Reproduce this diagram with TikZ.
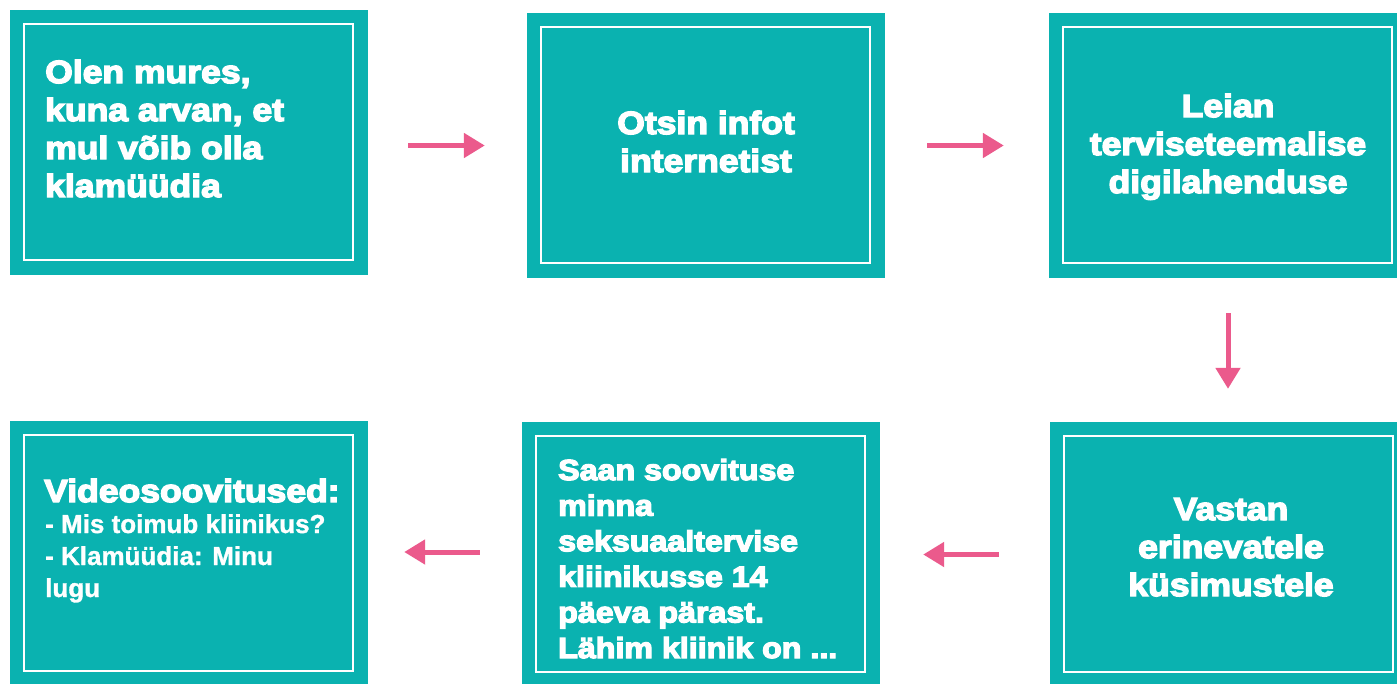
\documentclass[tikz,border=0pt]{standalone}
\usepackage{fontspec}
\usetikzlibrary{arrows.meta,calc}
\newfontfamily\heavy[FakeBold=4.5,FakeStretch=1.11]{Liberation Sans Bold}
\newfontfamily\boldsans[FakeBold=1.2]{Liberation Sans Bold}
\definecolor{teal}{HTML}{0AB2B0}
\definecolor{pinkarrow}{HTML}{EB5A8C}
\tikzset{
  box/.style={fill=teal, draw=none, minimum width=358pt, minimum height=265pt, inner sep=0pt},
  frame/.style={draw=white, line width=2pt},
  big/.style={text=white, inner sep=0pt, font=\heavy\fontsize{32}{38}\selectfont},
  mid/.style={text=white, inner sep=0pt, font=\heavy\fontsize{29}{35.6}\selectfont},
  small/.style={text=white, inner sep=0pt, font=\boldsans\fontsize{26}{32}\selectfont},
  arr/.style={draw=pinkarrow, line width=5pt, -{Triangle[length=21pt,width=24pt]}}
}
\begin{document}
\begin{tikzpicture}[x=1pt,y=-1pt]
\useasboundingbox (0,0) rectangle (1397,683);
\clip (0,0) rectangle (1397,683);
\fill[white] (0,0) rectangle (1397,683);
% boxes
\node[box] (b1) at (189,142.5) {};
\node[box] (b2) at (706,145.5) {};
\node[box] (b3) at (1228,145.5) {};
\node[box] (b4) at (1229,554.5) {};
\node[box] (b5) at (701,554.5) {};
\node[box] (b6) at (189,553.5) {};
\foreach \b in {b1,b2,b3,b4,b5,b6}
  \draw[frame] ([shift={(14,14)}]\b.north west) rectangle ([shift={(-15,-15)}]\b.south east);
% texts (base anchor = baseline of last line)
\node[big, align=left, anchor=base west] (t1) at (45,197) {Olen mures,\\kuna arvan, et\\mul võib olla\\klamüüdia};
\node[big, align=center, anchor=base] (t2) at (706,172) {Otsin infot\\internetist};
\node[big, align=center, anchor=base] (t3) at (1228,193) {Leian\\terviseteemalise\\digilahenduse};
\node[big, align=center, anchor=base] (t4) at (1231,596) {Vastan\\erinevatele\\küsimustele};
\node[mid, align=left, anchor=base west] (t5) at (558,658) {Saan soovituse\\minna\\seksuaaltervise\\kliinikusse 14\\päeva pärast.\\Lähim kliinik on ...};
\node[big, anchor=base west] (t6) at (44,502) {Videosoovitused:};
\node[small, align=left, anchor=base west] (t7) at (45,597) {- Mis toimub kliinikus?\\- Klamüüdia: Minu\\lugu};
% arrows
\draw[arr, shorten <=40pt, shorten >=42pt] (b1.east |- b2.west) -- (b2.west);
\draw[arr, shorten <=42pt, shorten >=45pt] (b2.east) -- (b3.west);
\draw[arr, shorten <=35pt, shorten >=33pt] (b3.south) -- (b3.south |- b4.north);
\draw[arr, shorten <=51pt, shorten >=43pt] (b4.west) -- (b5.east);
\draw[arr, shorten <=42pt, shorten >=36pt] ([yshift=2.5pt]b5.west) -- ([yshift=2.5pt]b5.west -| b6.east);
\end{tikzpicture}
\end{document}
